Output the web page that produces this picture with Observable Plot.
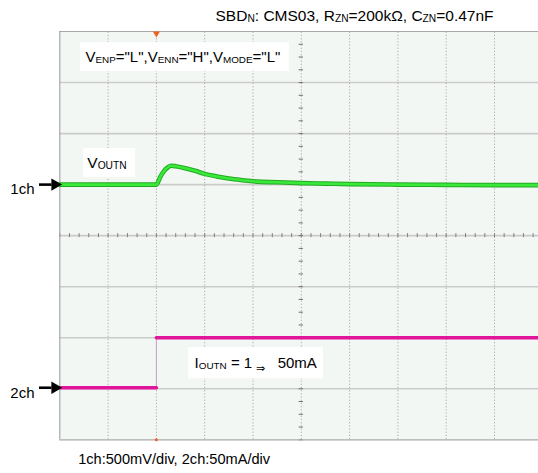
<!DOCTYPE html>
<html><head><meta charset="utf-8">
<script src="https://cdn.jsdelivr.net/npm/d3@7"></script>
<script src="https://cdn.jsdelivr.net/npm/@observablehq/plot@0.6"></script>
<style>
html,body{margin:0;padding:0;background:#fff;overflow:hidden}
</style></head><body><div id="chart"></div>
<script>
// ---- data (time and level in scope divisions) ----
const ch1Time  = [0, 0.5, 1, 1.5, 2.0, 2.08, 2.16, 2.24, 2.3, 2.4, 2.6, 2.8, 3.0, 3.25, 3.5, 3.75, 4.0, 4.5, 5.0, 5.5, 6, 7, 8, 9, 10];
const ch1Level = [1.0, 1.0, 1.0, 1.0, 1.0, 1.15, 1.27, 1.34, 1.37, 1.36, 1.32, 1.27, 1.21, 1.16, 1.12, 1.09, 1.065, 1.045, 1.03, 1.02, 1.01, 1.0, 0.995, 0.99, 0.99];
const ch2Time    = [0, 2.0, 2.0, 10];
const ch2Level   = [-2.98, -2.98, -2.0, -2.0];
const ch2Segment = ["low", "low", "high", "high"];
const triggerTime = [2.0];

const chLabels = ["1ch", "2ch"];
const chLevels = [1.0, -2.98];

const title = "SBD_{N}: CMS03, R_{ZN}=200kΩ, C_{ZN}=0.47nF";
const caption = "1ch:500mV/div, 2ch:50mA/div";

const noteText = ['V_{ENP}="L",V_{ENN}="H",V_{MODE}="L"', "V_{OUTN}", "I_{OUTN} = 1 ~{⇒}", "50mA"];
const noteX = [0.53, 0.57, 2.79, 4.51];
const noteY = [3.5, 1.42, -2.5, -2.5];
const noteSize = [15, 15.5, 15, 15];
const boxX1 = [0.43, 0.49, 2.665];
const boxX2 = [4.75, 1.57, 5.46];
const boxY1 = [3.22, 1.137, -2.804];
const boxY2 = [3.78, 1.706, -2.196];

const xDivs = d3.range(1, 10);
const yDivs = d3.range(-3, 4);
const xMinor = d3.range(0, 10.01, 0.2);
const yMinor = d3.range(-4, 4.01, 0.25);

// ---- build tables ----
const ch1 = ch1Time.map((t, i) => ({t, v: ch1Level[i]}));
const ch2 = ch2Time.map((t, i) => ({t, v: ch2Level[i], s: ch2Segment[i]}));
const notes = noteText.map((s, i) => ({s, x: noteX[i], y: noteY[i], size: noteSize[i]}));
const boxes = boxX1.map((x1, i) => ({x1, x2: boxX2[i], y1: boxY1[i], y2: boxY2[i]}));
const chs = chLabels.map((s, i) => ({s, v: chLevels[i]}));

const FONT = "Liberation Sans, Arial, Helvetica, sans-serif";

const plot = Plot.plot({
  width: 538, height: 473,
  margin: 0,
  style: {fontFamily: FONT, background: "white", overflow: "hidden"},
  x: {domain: [0, 10], range: [59.3, 542.3], axis: null},
  y: {domain: [-4, 4], range: [439.3, 31], axis: null},
  marks: [
    Plot.rect([0], {x1: 0, x2: 10, y1: -4, y2: 4, fill: "#f3f7f3"}),
    Plot.ruleY(yDivs, {x1: 0, x2: 10, stroke: "#cbcbcb", strokeWidth: 1.6}),
    Plot.ruleX(xDivs, {y1: -4, y2: 4, stroke: "#a9a9a9", strokeWidth: 1, strokeDasharray: "1.2,2"}),
    Plot.ruleY(yMinor, {x1: 4.955, x2: 5.045, stroke: "#707070", strokeWidth: 1}),
    Plot.ruleX(xMinor, {y1: -0.04, y2: 0.04, stroke: "#808080", strokeWidth: 1}),
    Plot.ruleX([0], {y1: -4, y2: 4, stroke: "#a8a8a8", strokeWidth: 1.2}),
    Plot.ruleY([-4, 4], {x1: 0, x2: 10, stroke: "#a8a8a8", strokeWidth: 1.2}),
    // white annotation boxes
    Plot.rect(boxes, {x1: "x1", x2: "x2", y1: "y1", y2: "y2", fill: "white"}),
    // channel 2 (current)
    Plot.ruleX(triggerTime, {y1: ch2Level[1], y2: ch2Level[2], stroke: "#c9a3c9", strokeWidth: 1}),
    Plot.line(ch2, {x: "t", y: "v", z: "s", stroke: "#e0159a", strokeWidth: 3.6}),
    // channel 1 (voltage)
    Plot.line(ch1, {x: "t", y: "v", stroke: "#22aa22", strokeWidth: 4.6, curve: "monotone-x"}),
    Plot.line(ch1, {x: "t", y: "v", stroke: "#3ae83a", strokeWidth: 2.6, curve: "monotone-x"}),
    // trigger markers
    Plot.dot(triggerTime, {x: d => d, y: 4, symbol: "triangle", r: 2.6, rotate: 180, fill: "#f0601e", dy: 2}),
    Plot.dot(triggerTime, {x: d => d, y: -4, r: 1.5, fill: "#f0601e"}),
    // notes
    Plot.text(notes, {x: "x", y: "y", text: "s", fontSize: "size", textAnchor: "start", fill: "black"}),
    // channel markers
    Plot.text(chs, {x: -0.524, y: "v", text: "s", textAnchor: "end", fontSize: 15, dy: 5, fill: "black"}),
    Plot.ruleY(chs, {y: "v", x1: -0.42, x2: -0.16, stroke: "black", strokeWidth: 2.6}),
    Plot.dot(chs, {x: -0.1, y: "v", symbol: "triangle", r: 4.6, rotate: 90, fill: "black"}),
    // title & caption
    Plot.text([title], {x: 8.98, y: 4.3, text: d => d, textAnchor: "end", fontSize: 15.5, fill: "black"}),
    Plot.text([caption], {x: 0.38, y: -4.39, text: d => d, textAnchor: "start", fontSize: 14.6, fill: "black"})
  ]
});

// rich text: _{..} = small subscript at baseline, ~{..} = small lowered glyph
function richify(root) {
  root.querySelectorAll("text").forEach(t => {
    const targets = t.querySelectorAll("tspan").length ? [...t.querySelectorAll("tspan")] : [t];
    targets.forEach(n => {
      const s = n.textContent;
      if (!/[_~]\{/.test(s)) return;
      n.textContent = "";
      const re = /([_~])\{([^}]*)\}|([^_~]+|[_~])/g;
      let m;
      while ((m = re.exec(s))) {
        const ts = document.createElementNS("http://www.w3.org/2000/svg", "tspan");
        if (m[1] === "_") {
          ts.textContent = m[2];
          ts.setAttribute("font-size", "0.66em");
          ts.setAttribute("baseline-shift", "-1");
        } else if (m[1] === "~") {
          ts.textContent = m[2];
          ts.setAttribute("font-size", "0.75em");
          ts.setAttribute("baseline-shift", "-4");
        } else {
          ts.textContent = m[3];
        }
        n.appendChild(ts);
      }
    });
  });
}
richify(plot);
document.getElementById("chart").appendChild(plot);
</script></body></html>
